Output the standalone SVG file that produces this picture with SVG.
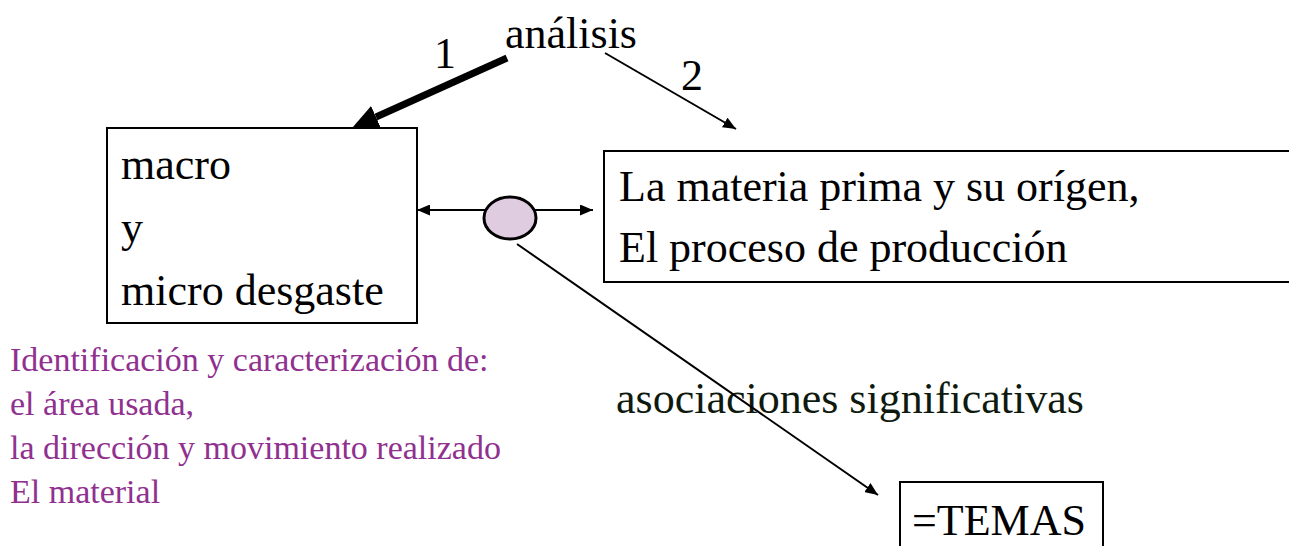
<svg xmlns="http://www.w3.org/2000/svg" width="1289" height="546" viewBox="0 0 1289 546">
<defs>
<style>
.t{font-family:"Liberation Serif","Times New Roman",serif;font-size:44px;fill:#000}
.p{font-family:"Liberation Serif","Times New Roman",serif;font-size:34px;fill:#90308f}
.box{fill:#fff;stroke:#000;stroke-width:2}
.ln{stroke:#000;fill:none}
</style>
<marker id="big" markerUnits="userSpaceOnUse" viewBox="0 0 26 24" refX="0" refY="12" markerWidth="26" markerHeight="24" orient="auto">
<path d="M0,0 L26,12 L0,24 z" fill="#000"/>
</marker>
<marker id="sm" markerUnits="userSpaceOnUse" viewBox="0 0 13 11" refX="13" refY="5.5" markerWidth="13" markerHeight="11" orient="auto-start-reverse">
<path d="M0,0 L13,5.5 L0,11 z" fill="#000"/>
</marker>
</defs>
<rect width="1289" height="546" fill="#fff"/>

<g id="node-macro">
<rect class="box" x="107" y="128" width="310" height="195"/>
<text class="t" x="121" y="179">macro</text>
<text class="t" x="121" y="242">y</text>
<text class="t" x="121" y="305">micro desgaste</text>
</g>

<g id="node-materia">
<rect class="box" x="604" y="151" width="720" height="131"/>
<text class="t" x="619" y="201">La materia prima y su orígen,</text>
<text class="t" x="619" y="262">El proceso de producción</text>
</g>

<g id="node-temas">
<rect class="box" x="900" y="482" width="203" height="90"/>
<text class="t" x="912" y="535">=TEMAS</text>
</g>

<g id="node-analisis">
<text class="t" x="505" y="48">análisis</text>
</g>

<g id="node-asociaciones">
<text class="t" x="616" y="413" style="fill:#0f1a0f">asociaciones significativas</text>
</g>

<g id="node-identificacion">
<text class="p" x="10" y="371">Identificación y caracterización de:</text>
<text class="p" x="10" y="415">el área usada,</text>
<text class="p" x="10" y="459">la dirección y movimiento realizado</text>
<text class="p" x="10" y="503">El material</text>
</g>

<g id="connectors">
<line class="ln" x1="507" y1="58" x2="376" y2="117" stroke-width="7" marker-end="url(#big)"/>
<line class="ln" x1="605" y1="53" x2="736" y2="129" stroke-width="2" marker-end="url(#sm)"/>
<line class="ln" x1="417" y1="210" x2="593" y2="210" stroke-width="2" marker-start="url(#sm)" marker-end="url(#sm)"/>
<line class="ln" x1="517" y1="244" x2="878" y2="495" stroke-width="2" marker-end="url(#sm)"/>
<text class="t" x="434" y="68">1</text>
<text class="t" x="681" y="90">2</text>
</g>

<g id="node-circle">
<ellipse cx="510" cy="218" rx="26" ry="21" fill="#e0cce0" stroke="#000" stroke-width="3"/>
</g>
</svg>
